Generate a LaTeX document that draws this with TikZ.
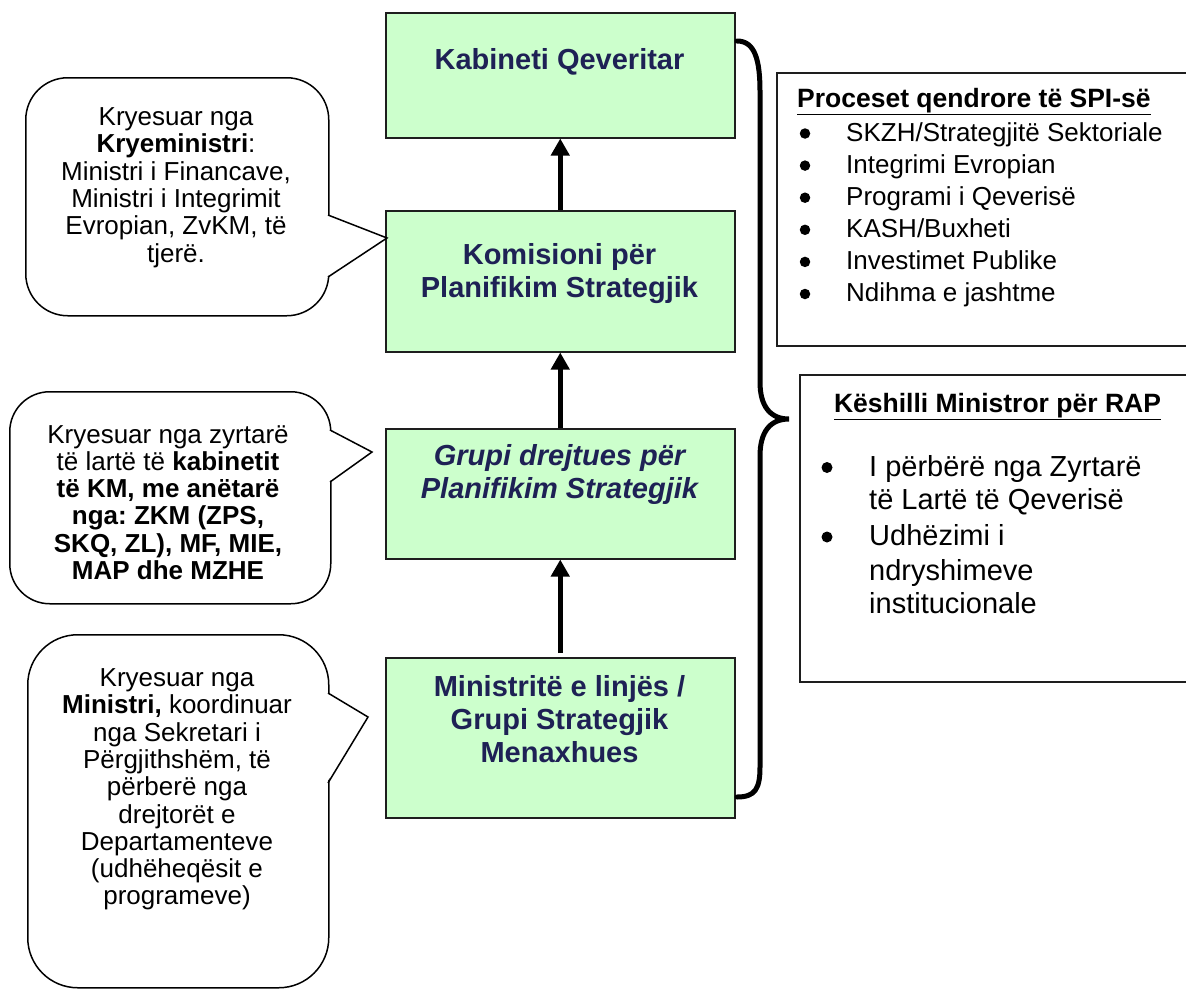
\documentclass[tikz,border=0pt]{standalone}
\usepackage{fontspec}
\setmainfont{Liberation Sans}
\usetikzlibrary{arrows.meta}
\frenchspacing
\definecolor{boxgreen}{RGB}{204,255,204}
\definecolor{navytext}{RGB}{30,33,85}
\definecolor{edgegray}{RGB}{30,30,30}
\tikzset{
  gbox/.style={draw=edgegray, line width=1.5pt, fill=boxgreen, minimum width=349pt, anchor=north west, inner sep=0pt},
  gtext/.style={text=navytext, font=\fontsize{29}{33}\selectfont\bfseries, align=center, inner sep=0pt},
  gtextit/.style={gtext, font=\fontsize{29}{33}\selectfont\bfseries\itshape},
  ctext/.style={font=\fontsize{26}{27.3}\selectfont, align=center, inner sep=0pt},
  callout/.style={draw=black, line width=1.5pt, fill=white, anchor=north west, inner sep=0pt},
  pointer/.style={draw=black, line width=1.5pt, line join=miter},
  upar/.style={-{Triangle[width=18pt,length=17pt]}, line width=5.5pt},
  bracestyle/.style={line width=5pt, line cap=round},
  infobox/.style={draw=edgegray, line width=1.5pt},
  listA/.style={font=\fontsize{26}{32}\selectfont, anchor=base west, inner sep=0pt},
  listB/.style={font=\fontsize{29}{34}\selectfont, anchor=base west, inner sep=0pt},
  headtext/.style={font=\fontsize{26.5}{32}\selectfont\bfseries, inner sep=0pt},
  bul/.style={circle, fill=black, inner sep=0pt, minimum size=10.5pt},
}
\begin{document}
\begin{tikzpicture}[x=1pt,y=-1pt]
\useasboundingbox (0,0) rectangle (1186,991);

% central green boxes
\node[gbox, minimum height=125pt] (b1) at (385,12) {};
\node[gbox, minimum height=141pt] (b2) at (385,210) {};
\node[gbox, minimum height=130pt] (b3) at (385,428) {};
\node[gbox, minimum height=160pt] (b4) at (385,657) {};

\node[gtext, anchor=base] (t1) at (559.5,69) {Kabineti Qeveritar};
\node[gtext] (t2) at (559.5,273.5) {Komisioni për\\Planifikim Strategjik};
\node[gtextit] (t3) at (559.5,474) {Grupi drejtues për\\Planifikim Strategjik};
\node[gtext] (t4) at (559.5,719) {Ministritë e linjës /\\Grupi Strategjik\\Menaxhues};

% arrows
\draw[upar] (b2.north) -- (b1.south);
\draw[upar] (b3.north) -- (b2.south);
\draw[upar, shorten <=4pt] (b4.north) -- (b3.south);

% brace
\coordinate (br0) at (737,41);
\coordinate (br1) at (789,419);
\coordinate (br2) at (737,797);
\draw[bracestyle] (br0) .. controls (755,41) and (760,60) .. (760,92)
  -- (760,382) .. controls (760,406) and (770,419) .. (br1)
  .. controls (770,419) and (760,432) .. (760,456)
  -- (760,767) .. controls (760,789) and (755,797) .. (br2);

% callout 1
\node[callout, rounded corners=42pt, minimum width=303pt, minimum height=238pt] (c1) at (25,77) {};
\coordinate (c1a) at (328,215);
\coordinate (c1tip) at (387,238);
\coordinate (c1b) at (328,277);
\fill[white] (326.5,215) -- (c1tip) -- (326.5,277) -- cycle;
\draw[pointer] (c1a) -- (c1tip) -- (c1b);
\node[ctext] (c1t) at (176,187.5) {Kryesuar nga\\\textbf{Kryeministri}:\\Ministri i Financave,\\Ministri i Integrimit\\Evropian, ZvKM, të\\tjerë.};

% callout 2
\node[callout, rounded corners=40pt, minimum width=321pt, minimum height=212pt] (c2) at (9,391) {};
\coordinate (c2a) at (330,430);
\coordinate (c2tip) at (372,452);
\coordinate (c2b) at (330,482);
\fill[white] (328.5,430) -- (c2tip) -- (328.5,482) -- cycle;
\draw[pointer] (c2a) -- (c2tip) -- (c2b);
\node[ctext] (c2t) at (168,502.5) {Kryesuar nga zyrtarë\\të lartë të \textbf{kabinetit}\\\textbf{të KM, me anëtarë}\\\textbf{nga: ZKM (ZPS,}\\\textbf{SKQ, ZL), MF, MIE,}\\\textbf{MAP dhe MZHE}};

% callout 3
\node[callout, rounded corners=50pt, minimum width=301pt, minimum height=353pt] (c3) at (27,634) {};
\coordinate (c3a) at (328,693);
\coordinate (c3tip) at (368,717);
\coordinate (c3b) at (328,783);
\fill[white] (326.5,693) -- (c3tip) -- (326.5,783) -- cycle;
\draw[pointer] (c3a) -- (c3tip) -- (c3b);
\node[ctext] (c3t) at (177,789.5) {Kryesuar nga\\\textbf{Ministri,} koordinuar\\nga Sekretari i\\Përgjithshëm, të\\përberë nga\\drejtorët e\\Departamenteve\\(udhëheqësit e\\programeve)};

% right box 1
\draw[infobox] (1186,73) -| (777,346) -- (1186,346);
\node[headtext, anchor=base west] (h1) at (797,107) {\underline{Proceset qendrore të SPI-së}};
\foreach \txt [count=\i] in {SKZH/Strategjitë Sektoriale, Integrimi Evropian, Programi i Qeverisë, KASH/Buxheti, Investimet Publike, Ndihma e jashtme} {
  \node[listA] (pa\i) at (846,{141+(\i-1)*32.1}) {\txt};
  \node[bul] (da\i) at (805,{133.5+(\i-1)*32.1}) {};
}

% right box 2
\draw[infobox] (1186,375) -| (800,682) -- (1186,682);
\node[headtext, anchor=base] (h2) at (997.5,412) {\underline{Këshilli Ministror për RAP}};
\node[bul, minimum size=11pt] (db1) at (827,467.5) {};
\node[bul, minimum size=11pt] (db2) at (827,537) {};
\node[listB] (pb1) at (869,476) {I përbërë nga Zyrtarë};
\node[listB] (pb2) at (869,509) {të Lartë të Qeverisë};
\node[listB] (pb3) at (869,545) {Udhëzimi i};
\node[listB] (pb4) at (869,580) {ndryshimeve};
\node[listB] (pb5) at (869,613) {institucionale};
\end{tikzpicture}
\end{document}
